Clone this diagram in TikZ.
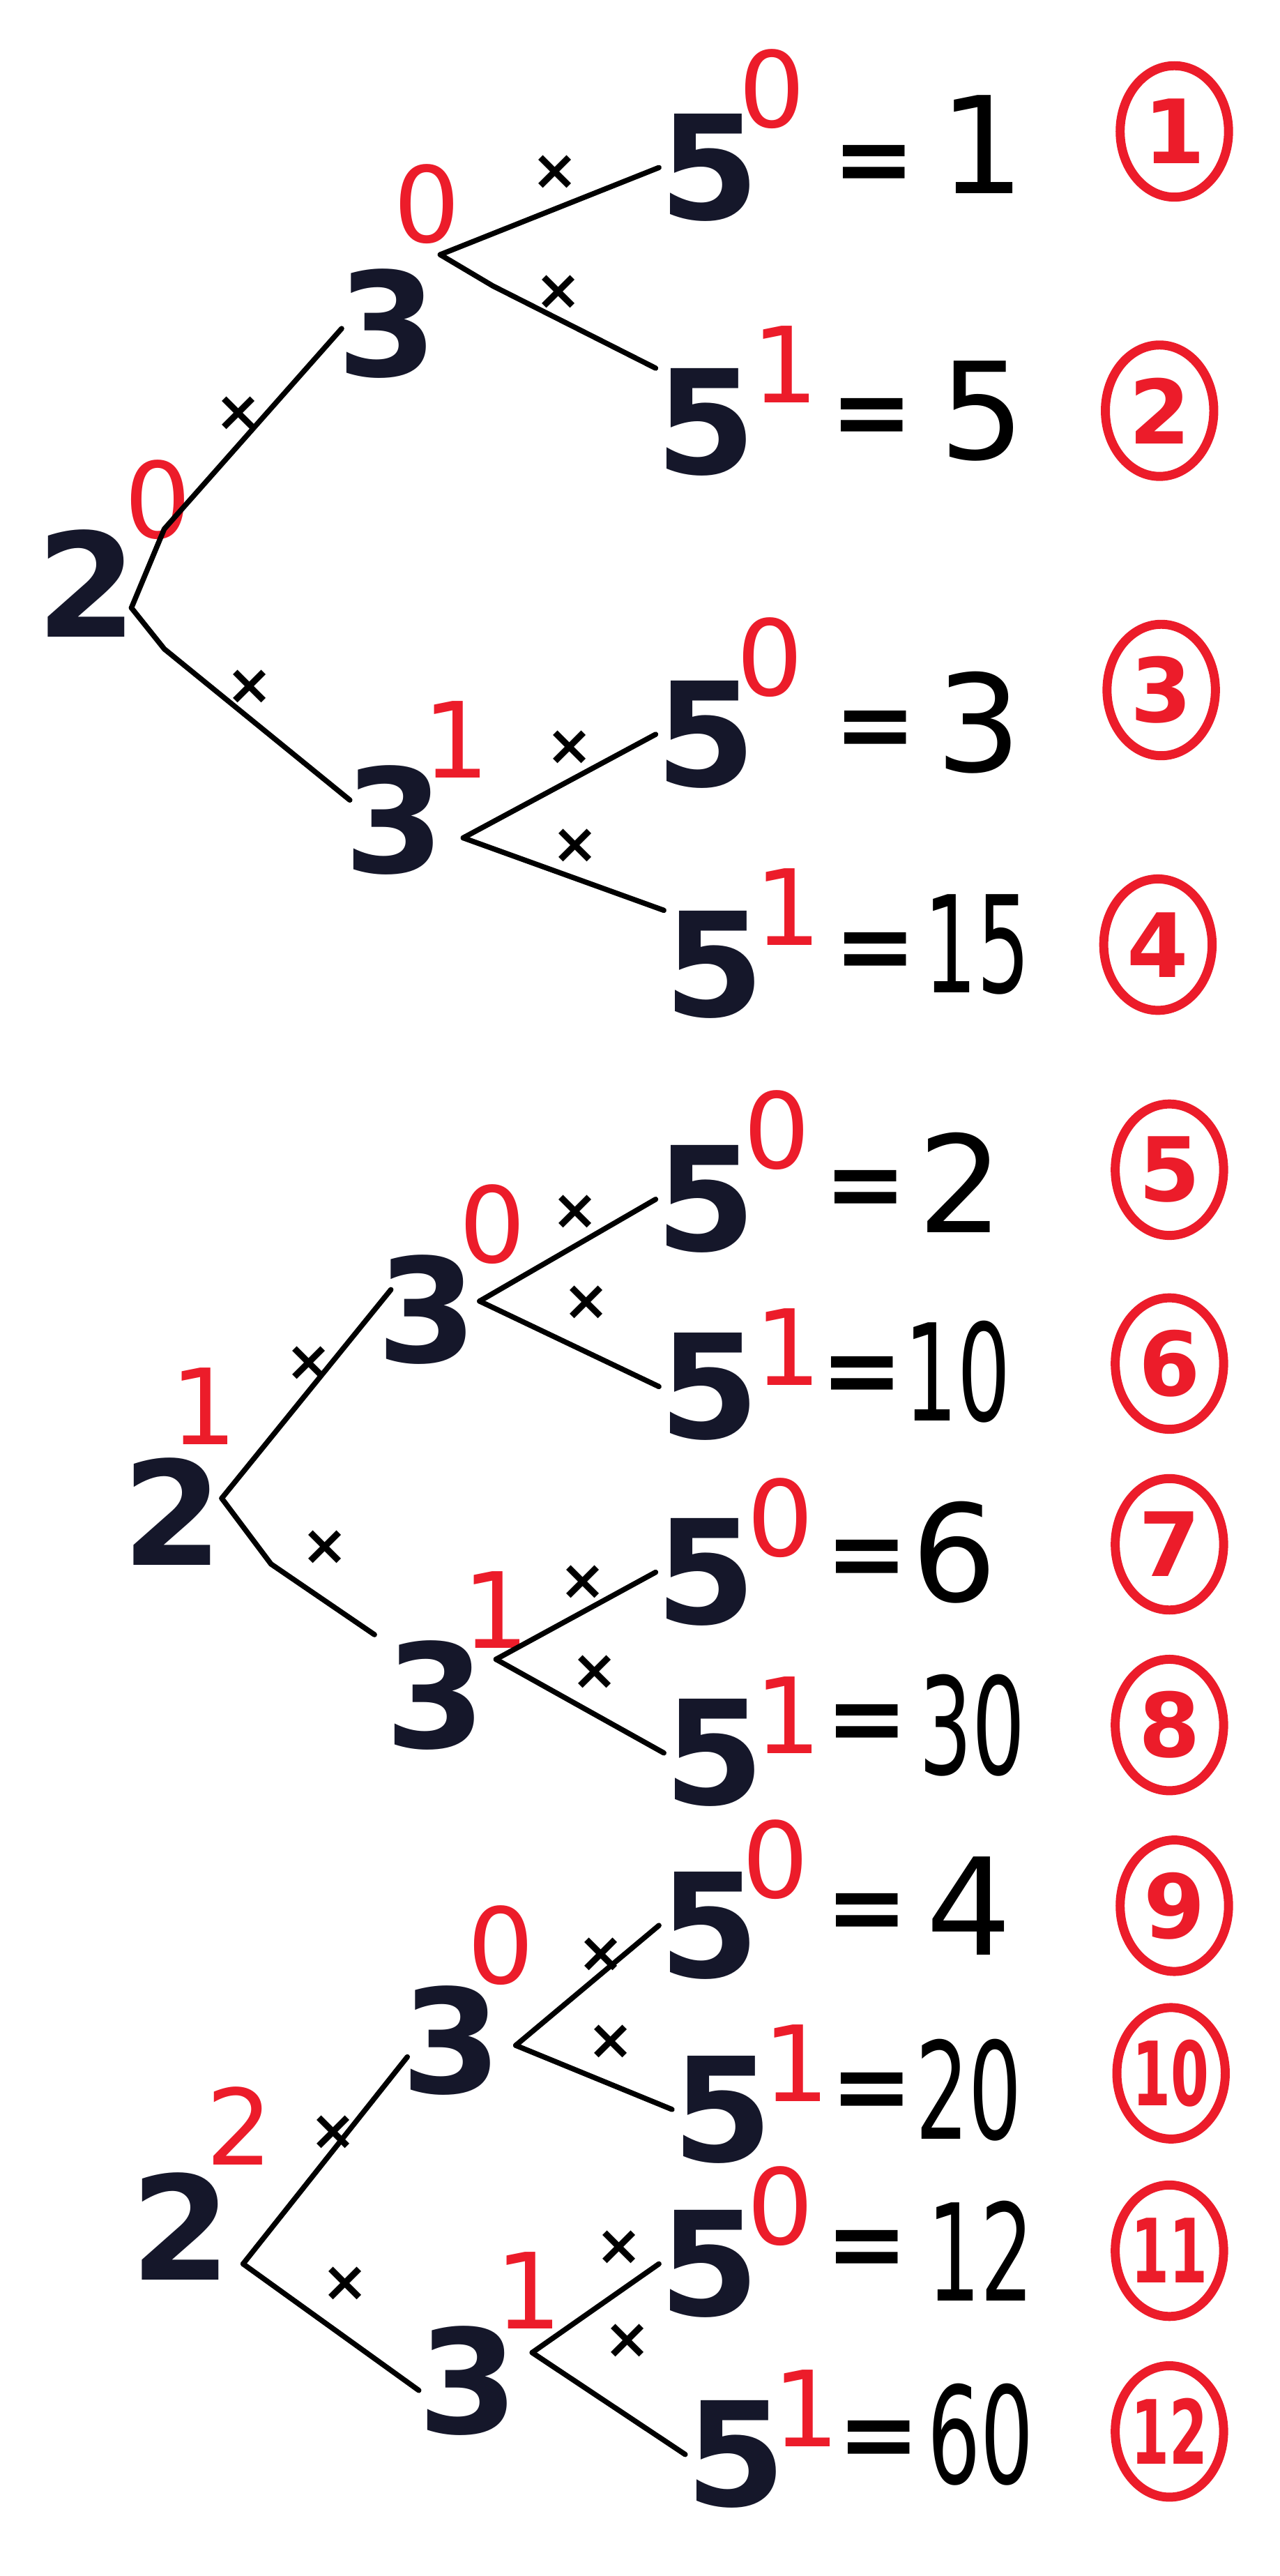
\documentclass[tikz,border=0pt]{standalone}
\usepackage{fontspec}
\setmainfont{DejaVu Sans}
\usetikzlibrary{shapes.geometric}
\definecolor{ink}{HTML}{15172A}
\definecolor{pen}{HTML}{EC1C2A}
\tikzset{
  base/.style={font=\fontsize{88}{88}\selectfont\bfseries, text=ink, inner sep=0pt},
  expo/.style={font=\fontsize{64}{64}\selectfont, text=pen, inner sep=0pt},
  eqs/.style={font=\fontsize{60}{60}\selectfont\bfseries, text=black, inner sep=0pt},
  val/.style={font=\fontsize{82}{82}\selectfont, text=black, inner sep=0pt},
  circ/.style={draw=pen, line width=5.5pt, ellipse, minimum width=66pt, minimum height=80pt,
    font=\fontsize{54}{54}\selectfont\bfseries, text=pen, inner sep=0pt},
  branch/.style={draw=black, line width=3.2pt, line cap=round, line join=round},
  mult/.style={font=\fontsize{34}{34}\selectfont\bfseries, text=black, inner sep=0pt},
}
\newcommand{\narrow}[1]{\scalebox{0.62}[1]{#1}}
\begin{document}
\begin{tikzpicture}[x=1pt,y=-1pt]
\useasboundingbox (0,0) rectangle (779,1568);
\fill[white] (0,0) rectangle (779,1568);

% ================= Tree 1 =================
\node[base] (a2) at (53,355) {2};
\node[expo] (a2e) at (96,304) {0};
\node[base] (a3u) at (236,197) {3};
\node[expo] (a3ue) at (260,124) {0};
\node[base] (a3d) at (240,499) {3};
\node[expo] (a3de) at (278,450) {1};

\coordinate (a2v) at (80,370);
\coordinate (a2k1) at (100,322);
\coordinate (a2k2) at (100,395);
\coordinate (a3uin) at (208,200);
\coordinate (a3din) at (213,487);
\coordinate (a3uv) at (268,155);
\coordinate (a3uk) at (300,174);
\coordinate (a3dv) at (282,510);

\draw[branch] (a2v) -- (a2k1) -- (a3uin);
\draw[branch] (a2v) -- (a2k2) -- (a3din);
\node[mult] (ax1) at (145,252) {×};
\node[mult] (ax2) at (152,418) {×};

% leaves 1-4
\node[base] (r1) at (432,102) {5};
\node[expo] (r1e) at (470,54) {0};
\node[eqs] (r1q) at (532,103) {=};
\node[val] (r1v) at (598,88) {1};
\node[circ] (c1) at (715,80) {1};

\node[base] (r2) at (430,257) {5};
\node[expo] (r2e) at (478,222) {1};
\node[eqs] (r2q) at (531,257) {=};
\node[val] (r2v) at (598,250) {5};
\node[circ] (c2) at (706,250) {2};

\node[base] (r3) at (430,447) {5};
\node[expo] (r3e) at (469,400) {0};
\node[eqs] (r3q) at (533,447) {=};
\node[val] (r3v) at (596,440) {3};
\node[circ] (c3) at (707,420) {3};

\node[base] (r4) at (435,587) {5};
\node[expo] (r4e) at (480,552) {1};
\node[eqs] (r4q) at (533,582) {=};
\node[val] (r4v) at (595,575) {\narrow{15}};
\node[circ] (c4) at (705,575) {4};

\draw[branch] (a3uv) -- (r1.west);
\draw[branch] (a3uv) -- (a3uk) -- (r2.north west);
\draw[branch] (a3dv) -- (r3.west);
\draw[branch] (a3dv) -- (r4.north west);
\node[mult] (ax3) at (338,105) {×};
\node[mult] (ax4) at (340,178) {×};
\node[mult] (ax5) at (347,455) {×};
\node[mult] (ax6) at (350,515) {×};

% ================= Tree 2 =================
\node[base] (b2) at (105,920) {2};
\node[expo] (b2e) at (124,856) {1};
\node[base] (b3u) at (260,797) {3};
\node[expo] (b3ue) at (300,745) {0};
\node[base] (b3d) at (265,1032) {3};
\node[expo] (b3de) at (302,980) {1};

\coordinate (b2v) at (135,912);
\coordinate (b2k) at (165,952);
\coordinate (b3uin) at (238,785);
\coordinate (b3din) at (228,995);
\coordinate (b3uv) at (292,792);
\coordinate (b3dv) at (302,1010);

\draw[branch] (b2v) -- (b3uin);
\draw[branch] (b2v) -- (b2k) -- (b3din);
\node[mult] (bx1) at (188,830) {×};
\node[mult] (bx2) at (198,942) {×};

\node[base] (r5) at (430,730) {5};
\node[expo] (r5e) at (473,688) {0};
\node[eqs] (r5q) at (527,727) {=};
\node[val] (r5v) at (585,720) {2};
\node[circ] (c5) at (712,712) {5};

\node[base] (r6) at (432,844) {5};
\node[expo] (r6e) at (480,820) {1};
\node[eqs] (r6q) at (525,840) {=};
\node[val] (r6v) at (583,835) {\narrow{10}};
\node[circ] (c6) at (712,830) {6};

\node[base] (r7) at (430,957) {5};
\node[expo] (r7e) at (475,924) {0};
\node[eqs] (r7q) at (528,952) {=};
\node[val] (r7v) at (581,945) {6};
\node[circ] (c7) at (712,940) {7};

\node[base] (r8) at (435,1067) {5};
\node[expo] (r8e) at (480,1044) {1};
\node[eqs] (r8q) at (528,1052) {=};
\node[val] (r8v) at (592,1050) {\narrow{30}};
\node[circ] (c8) at (712,1050) {8};

\draw[branch] (b3uv) -- (r5.west);
\draw[branch] (b3uv) -- (r6.west);
\draw[branch] (b3dv) -- (r7.west);
\draw[branch] (b3dv) -- (r8.west);
\node[mult] (bx3) at (350,738) {×};
\node[mult] (bx4) at (357,793) {×};
\node[mult] (bx5) at (355,963) {×};
\node[mult] (bx6) at (362,1018) {×};

% ================= Tree 3 =================
\node[base] (t2) at (110,1355) {2};
\node[expo] (t2e) at (146,1294) {2};
\node[base] (t3u) at (275,1242) {3};
\node[expo] (t3ue) at (305,1184) {0};
\node[base] (t3d) at (285,1449) {3};
\node[expo] (t3de) at (322,1394) {1};

\coordinate (t2v) at (148,1378);
\coordinate (t3uin) at (248,1252);
\coordinate (t3din) at (255,1455);
\coordinate (t3uv) at (314,1245);
\coordinate (t3dv) at (324,1432);

\draw[branch] (t2v) -- (t3uin);
\draw[branch] (t2v) -- (t3din);
\node[mult] (tx1) at (203,1298) {×};
\node[mult] (tx2) at (210,1390) {×};

\node[base] (r9) at (432,1172) {5};
\node[expo] (r9e) at (472,1132) {0};
\node[eqs] (r9q) at (528,1167) {=};
\node[val] (r9v) at (590,1160) {4};
\node[circ] (c9) at (715,1160) {9};

\node[base] (r10) at (440,1284) {5};
\node[expo] (r10e) at (485,1256) {1};
\node[eqs] (r10q) at (531,1276) {=};
\node[val] (r10v) at (590,1272) {\narrow{20}};
\node[circ] (c10) at (713,1262) {\narrow{10}};

\node[base] (r11) at (432,1378) {5};
\node[expo] (r11e) at (475,1343) {0};
\node[eqs] (r11q) at (528,1372) {=};
\node[val] (r11v) at (597,1370) {\narrow{12}};
\node[circ] (c11) at (712,1370) {\narrow{11}};

\node[base] (r12) at (448,1494) {5};
\node[expo] (r12e) at (491,1466) {1};
\node[eqs] (r12q) at (535,1488) {=};
\node[val] (r12v) at (597,1482) {\narrow{60}};
\node[circ] (c12) at (712,1480) {\narrow{12}};

\draw[branch] (t3uv) -- (r9.west);
\draw[branch] (t3uv) -- (r10.west);
\draw[branch] (t3dv) -- (r11.west);
\draw[branch] (t3dv) -- (r12.west);
\node[mult] (tx3) at (366,1190) {×};
\node[mult] (tx4) at (372,1243) {×};
\node[mult] (tx5) at (377,1368) {×};
\node[mult] (tx6) at (382,1425) {×};
\end{tikzpicture}
\end{document}
